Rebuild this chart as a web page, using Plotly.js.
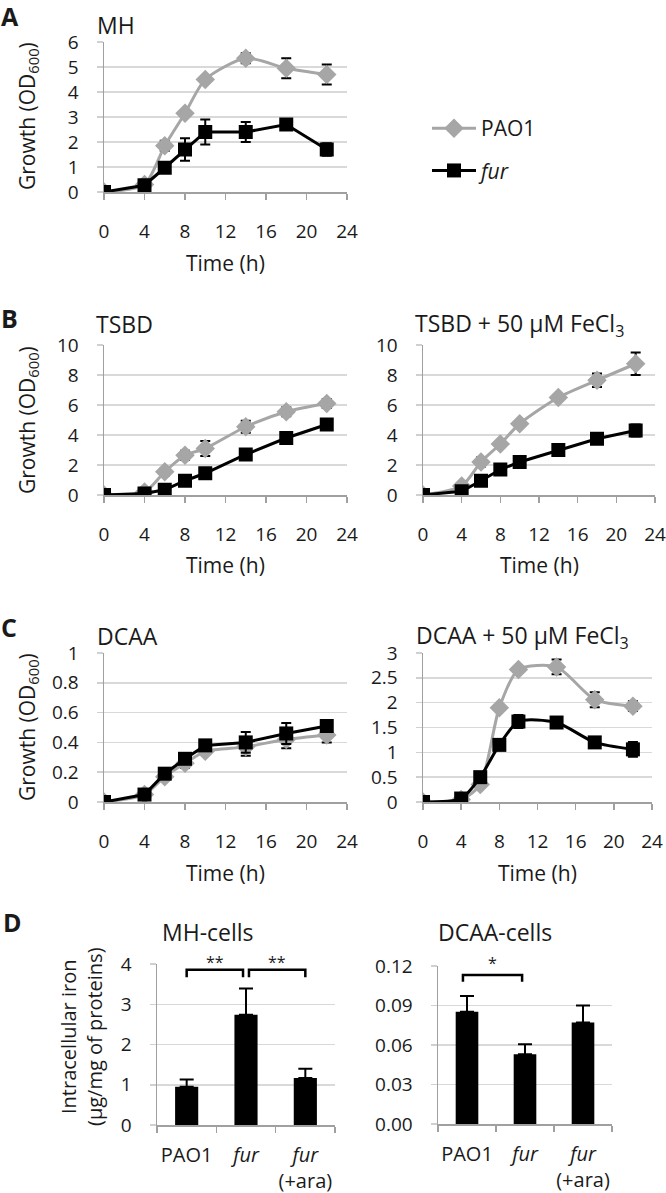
<!DOCTYPE html>
<html><head><meta charset="utf-8">
<script src="https://cdn.plot.ly/plotly-3.0.1.min.js"></script>
<style>html,body{margin:0;padding:0;background:#fff}</style>
</head><body><div id="chart" style="width:666px;height:1193px"></div>
<script>
// ---------- data ----------
const timeH = [0, 4, 6, 8, 10, 14, 18, 22];
const seriesNames = ['PAO1', '<i>fur</i>'];

const pao1MH      = [0, 0.3, 1.85, 3.15, 4.5, 5.35, 4.95, 4.7];
const pao1MHErr   = [0, 0.05, 0.2, 0.1, 0.1, 0.2, 0.4, 0.4];
const furMH       = [0, 0.27, 0.97, 1.7, 2.4, 2.4, 2.7, 1.7];
const furMHErr    = [0, 0.05, 0.1, 0.45, 0.5, 0.4, 0.15, 0.25];

const pao1TSBD    = [0, 0.2, 1.55, 2.65, 3.1, 4.55, 5.55, 6.1];
const pao1TSBDErr = [0, 0.05, 0.25, 0.3, 0.5, 0.4, 0.3, 0.3];
const furTSBD     = [0, 0.1, 0.35, 0.95, 1.45, 2.7, 3.8, 4.7];
const furTSBDErr  = [0, 0.05, 0.1, 0.1, 0.1, 0.15, 0.1, 0.15];

const pao1TSBDFe    = [0, 0.6, 2.2, 3.4, 4.75, 6.5, 7.65, 8.75];
const pao1TSBDFeErr = [0, 0.05, 0.3, 0.1, 0.1, 0.1, 0.45, 0.75];
const furTSBDFe     = [0, 0.25, 0.95, 1.7, 2.2, 3.0, 3.75, 4.3];
const furTSBDFeErr  = [0, 0.05, 0.1, 0.1, 0.1, 0.15, 0.15, 0.4];

const pao1DCAA    = [0, 0.05, 0.17, 0.26, 0.34, 0.37, 0.42, 0.45];
const pao1DCAAErr = [0, 0.01, 0.02, 0.03, 0.02, 0.06, 0.06, 0.05];
const furDCAA     = [0, 0.05, 0.19, 0.29, 0.38, 0.40, 0.46, 0.51];
const furDCAAErr  = [0, 0.01, 0.02, 0.03, 0.03, 0.07, 0.07, 0.04];

const pao1DCAAFe    = [0, 0.05, 0.35, 1.9, 2.67, 2.72, 2.06, 1.93];
const pao1DCAAFeErr = [0, 0.01, 0.03, 0.03, 0.07, 0.15, 0.15, 0.1];
const furDCAAFe     = [0, 0.07, 0.5, 1.15, 1.62, 1.6, 1.2, 1.06];
const furDCAAFeErr  = [0, 0.01, 0.05, 0.05, 0.13, 0.08, 0.05, 0.15];

const strains  = ['PAO1', '<i>fur</i>', '<i>fur</i><br>(+ara)'];
const ironMH   = [0.95, 2.74, 1.17];
const ironMHErr = [0.18, 0.65, 0.23];
const ironDCAA = [0.0853, 0.053, 0.077];
const ironDCAAErr = [0.012, 0.0076, 0.013];

// ---------- helpers ----------
const W = 666, H = 1193;
const px = v => v / W, py = v => 1 - v / H;
const FONT = '"Open Sans", Lato, sans-serif';
const GRAY = '#a6a6a6';
const TXT = '#1a1a1a';

function growth(xa, ya, y, e, name, isPao1, smooth, showleg) {
  return {
    type: 'scatter', mode: 'lines+markers', x: timeH, y: y,
    xaxis: xa, yaxis: ya, name: name, showlegend: showleg,
    legendgroup: name,
    line: {color: isPao1 ? GRAY : '#000', width: 3, shape: smooth ? 'spline' : 'linear', smoothing: 0.7},
    marker: isPao1 ? {symbol: 'diamond', size: 15, color: GRAY} : {symbol: 'square', size: 14, color: '#000'},
    error_y: {type: 'data', array: e, visible: true, color: '#000', thickness: 2, width: 5},
    hoverinfo: 'skip'
  };
}
function bars(xa, ya, y, e) {
  return {
    type: 'bar', x: strains, y: y, xaxis: xa, yaxis: ya, showlegend: false,
    width: 0.39, marker: {color: '#000'},
    error_y: {type: 'data', array: e, arrayminus: e.map(() => 0), symmetric: false,
              visible: true, color: '#000', thickness: 2, width: 7},
    hoverinfo: 'skip'
  };
}

const data = [
  growth('x', 'y', pao1MH, pao1MHErr, seriesNames[0], true, true, true),
  growth('x', 'y', furMH, furMHErr, seriesNames[1], false, false, true),
  growth('x2', 'y2', pao1TSBD, pao1TSBDErr, seriesNames[0], true, true, false),
  growth('x2', 'y2', furTSBD, furTSBDErr, seriesNames[1], false, false, false),
  growth('x3', 'y3', pao1TSBDFe, pao1TSBDFeErr, seriesNames[0], true, true, false),
  growth('x3', 'y3', furTSBDFe, furTSBDFeErr, seriesNames[1], false, false, false),
  growth('x4', 'y4', pao1DCAA, pao1DCAAErr, seriesNames[0], true, true, false),
  growth('x4', 'y4', furDCAA, furDCAAErr, seriesNames[1], false, false, false),
  growth('x5', 'y5', pao1DCAAFe, pao1DCAAFeErr, seriesNames[0], true, true, false),
  growth('x5', 'y5', furDCAAFe, furDCAAFeErr, seriesNames[1], false, true, false),
  bars('x6', 'y6', ironMH, ironMHErr),
  bars('x7', 'y7', ironDCAA, ironDCAAErr)
];

function timeAxis(x0, x1, yref) {
  return {domain: [px(x0), px(x1)], anchor: yref, range: [0, 24], dtick: 4, tick0: 0,
    showgrid: false, zeroline: false, showline: true, linecolor: '#a0a0a0', linewidth: 1.5,
    ticks: 'outside', ticklen: 6, tickcolor: '#a0a0a0', tickwidth: 1.5, tickangle: 0,
    ticklabelstandoff: 16, tickfont: {family: FONT, size: 19, color: TXT}, fixedrange: true};
}
function valAxis(y0, y1, xref, max, dtick, fmt) {
  return {domain: [py(y1), py(y0)], anchor: xref, range: [0, max], dtick: dtick, tick0: 0,
    showgrid: true, gridcolor: '#d9d9d9', gridwidth: 1.5, zeroline: false,
    showline: true, linecolor: '#a0a0a0', linewidth: 1.5,
    ticks: 'outside', ticklen: 6, tickcolor: '#d0d0d0', tickwidth: 1.5,
    tickformat: fmt || '', ticklabelstandoff: 14,
    tickfont: {family: FONT, size: 19, color: TXT}, fixedrange: true};
}
function catAxis(x0, x1, yref) {
  return {domain: [px(x0), px(x1)], anchor: yref, type: 'category', range: [-0.5, 2.5],
    showgrid: false, zeroline: false, showline: true, linecolor: '#a0a0a0', linewidth: 1.5,
    ticks: 'outside', tickson: 'boundaries', ticklen: 6, tickcolor: '#a0a0a0', tickwidth: 1.5,
    tickangle: 0, ticklabelstandoff: 11, tickfont: {family: FONT, size: 20, color: TXT}, fixedrange: true};
}

const ann = [];
function txt(x, y, t, size, opts) {
  ann.push(Object.assign({xref: 'paper', yref: 'paper', x: px(x), y: py(y), text: t,
    showarrow: false, font: {family: FONT, size: size, color: TXT},
    xanchor: 'center', yanchor: 'middle'}, opts || {}));
}
// panel letters
txt(10, 16, '<b>A</b>', 25);
txt(9, 318, '<b>B</b>', 25);
txt(9, 627, '<b>C</b>', 25);
txt(12, 922, '<b>D</b>', 25);
// panel titles
txt(95, 25, 'MH', 23, {xanchor: 'left'});
txt(94, 324, 'TSBD', 23, {xanchor: 'left'});
txt(413, 324, 'TSBD + 50 µM FeCl<sub>3</sub>', 23, {xanchor: 'left'});
txt(95, 636, 'DCAA', 23, {xanchor: 'left'});
txt(414, 636, 'DCAA + 50 µM FeCl<sub>3</sub>', 23, {xanchor: 'left'});
txt(160, 932, 'MH-cells', 23, {xanchor: 'left'});
txt(436, 932, 'DCAA-cells', 23, {xanchor: 'left'});
// x titles
txt(225, 263, 'Time (h)', 21);
txt(225, 565, 'Time (h)', 21);
txt(539, 565, 'Time (h)', 21);
txt(225, 873, 'Time (h)', 21);
txt(537, 873, 'Time (h)', 21);
// y titles
txt(28, 116, 'Growth (OD<sub>600</sub>)', 21, {textangle: -90});
txt(28, 420, 'Growth (OD<sub>600</sub>)', 21, {textangle: -90});
txt(28, 727, 'Growth (OD<sub>600</sub>)', 21, {textangle: -90});
txt(81, 1037, 'Intracellular iron<br>(µg/mg of proteins)', 20, {textangle: -90});
// significance stars (x in category units, y in page pixels)
ann.push({xref: 'x6', yref: 'paper', x: 0.47, y: py(975), text: '**', showarrow: false, font: {family: FONT, size: 16, color: TXT}});
ann.push({xref: 'x6', yref: 'paper', x: 1.52, y: py(975), text: '**', showarrow: false, font: {family: FONT, size: 16, color: TXT}});
ann.push({xref: 'x7', yref: 'paper', x: 0.44, y: py(976), text: '*', showarrow: false, font: {family: FONT, size: 16, color: TXT}});

const bline = {color: '#000', width: 2.5};
const shapes = [
  {type: 'path', xref: 'x6', yref: 'y6', path: 'M 0,3.67 L 0,3.86 L 0.95,3.86 L 0.95,3.67', line: bline},
  {type: 'path', xref: 'x6', yref: 'y6', path: 'M 1.05,3.67 L 1.05,3.86 L 2,3.86 L 2,3.67', line: bline},
  {type: 'path', xref: 'x7', yref: 'y7', path: 'M -0.07,0.108 L -0.07,0.1132 L 0.95,0.1132 L 0.95,0.108', line: bline}
];

const layout = {
  width: W, height: H, margin: {l: 0, r: 0, t: 0, b: 0},
  paper_bgcolor: '#fff', plot_bgcolor: '#fff',
  font: {family: FONT, color: TXT},
  xaxis: timeAxis(104, 347, 'y'),  yaxis: valAxis(42, 192, 'x', 6, 1),
  xaxis2: timeAxis(104, 347, 'y2'), yaxis2: valAxis(345, 495, 'x2', 10, 2),
  xaxis3: timeAxis(423, 655, 'y3'), yaxis3: valAxis(345, 495, 'x3', 10, 2),
  xaxis4: timeAxis(104, 347, 'y4'), yaxis4: valAxis(653, 802, 'x4', 1, 0.2),
  xaxis5: timeAxis(423, 652, 'y5'), yaxis5: valAxis(653, 802, 'x5', 3, 0.5),
  xaxis6: catAxis(157, 335, 'y6'), yaxis6: valAxis(964, 1125, 'x6', 4, 1),
  xaxis7: catAxis(438, 612, 'y7'), yaxis7: valAxis(966, 1124, 'x7', 0.12, 0.03, '.2f'),
  showlegend: true,
  legend: {x: px(427), y: py(108), xanchor: 'left', yanchor: 'top', bgcolor: 'rgba(0,0,0,0)',
    font: {family: FONT, size: 21, color: TXT}, tracegroupgap: 12, itemwidth: 44},
  annotations: ann, shapes: shapes, bargap: 0.6
};
Plotly.newPlot('chart', data, layout, {displayModeBar: false, staticPlot: true});
</script></body></html>
